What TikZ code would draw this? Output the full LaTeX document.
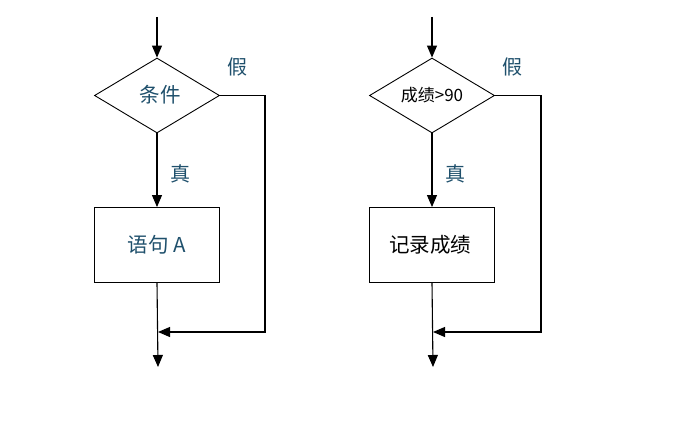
\documentclass[tikz,border=0pt]{standalone}
\usepackage{fontspec}
\newfontfamily\cjk{Noto Sans CJK SC}
\usetikzlibrary{shapes.geometric,arrows.meta}
\definecolor{teal1}{RGB}{31,80,108}
\begin{document}
\begin{tikzpicture}[x=1pt,y=-1pt,
  line width=1.1pt,
  dec/.style={draw,diamond,minimum width=125pt,minimum height=75pt,inner sep=0pt,line width=0.9pt},
  stm/.style={draw,rectangle,minimum width=125pt,minimum height=75pt,inner sep=0pt,line width=0.9pt},
  arr/.style={-{Triangle[length=12pt,width=10pt]}},
  big/.style={font=\cjk\fontsize{20.5}{22}\selectfont},
  lbl/.style={font=\cjk\fontsize{20}{22}\selectfont,text=teal1}]
\useasboundingbox (0,0) rectangle (692,438);
% left
\coordinate (s1) at (157,17);
\node[dec] (d1) at (157,95.5) {};
\node[big,text=teal1] at (160,95) {条件};
\node[stm] (b1) at (157,245) {};
\node[big,text=teal1] at (157,245) {语句 A};
\coordinate (e1) at (158,367);
\coordinate (r1) at (265,95.5);
\coordinate (q1) at (265,332);
\coordinate (m1) at (158,332);
\draw[arr] (s1) -- (d1.north);
\draw[arr] (d1.south) -- (b1.north);
\draw[arr] (b1.south) -- (e1);
\draw[arr] (d1.east) -- (r1) -- (q1) -- (m1);
\node[lbl] at (180,174) {真};
\node[lbl] at (237,67) {假};
% right
\coordinate (s2) at (432,17);
\node[dec] (d2) at (432,95.5) {};
\node[font=\cjk\fontsize{17}{19}\selectfont] at (432,95) {成绩>90};
\node[stm] (b2) at (432,245) {};
\node[big] at (430,245) {记录成绩};
\coordinate (e2) at (433,367);
\coordinate (r2) at (541,95.5);
\coordinate (q2) at (541,332);
\coordinate (m2) at (433,332);
\draw[arr] (s2) -- (d2.north);
\draw[arr] (d2.south) -- (b2.north);
\draw[arr] (b2.south) -- (e2);
\draw[arr] (d2.east) -- (r2) -- (q2) -- (m2);
\node[lbl] at (455,174) {真};
\node[lbl] at (512,67) {假};
\end{tikzpicture}
\end{document}
